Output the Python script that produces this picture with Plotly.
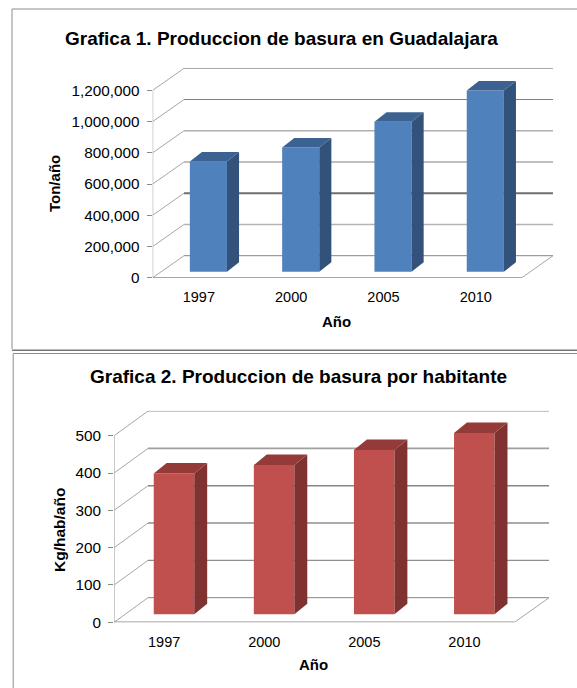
import plotly.graph_objects as go

WIDTH, HEIGHT = 577, 688
PAGE_HEIGHT = 696
FONT = "Liberation Sans, Arial, sans-serif"

categories = ["1997", "2000", "2005", "2010"]
tons_values = [705000, 795000, 960000, 1160000]
tons_ticks = [0, 200000, 400000, 600000, 800000, 1000000, 1200000]
tons_ticktext = ["0", "200,000", "400,000", "600,000", "800,000", "1,000,000", "1,200,000"]
kg_values = [377, 400, 440, 486]
kg_ticks = [0, 100, 200, 300, 400, 500]
kg_ticktext = ["0", "100", "200", "300", "400", "500"]

fig = go.Figure()
shapes, annotations = [], []


def px_x(v):
    return v / WIDTH


def px_y(v):
    return 1 - v / HEIGHT


def line(xref, yref, x0, y0, x1, y1, color, width):
    shapes.append(dict(type="line", xref=xref, yref=yref, x0=x0, y0=y0, x1=x1, y1=y1,
                       line=dict(color=color, width=width), layer="below"))


def text(x, y, s, size, angle=0, bold=True, color="#000000"):
    annotations.append(dict(xref="paper", yref="paper", x=px_x(x), y=px_y(y), text=f"<b>{s}</b>" if bold else s,
                            showarrow=False, textangle=angle, xanchor="center", yanchor="middle",
                            font=dict(family=FONT, size=size, color=color)))


def chart(n, values, ticks, ticktext, g, colors, grid_styles):
    xa, ya = ("x" if n == 1 else f"x{n}"), ("y" if n == 1 else f"y{n}")
    catw = (g["front_right"] - g["left"]) / len(values)
    unit = (g["y0"] - g["ytop"]) / ticks[-1]
    dx = (g["back_left"] - g["left"]) / catw
    dy = (g["y0"] - g["back0"]) / unit
    xmax = -0.5 + (g["back_right"] - g["left"]) / catw
    ymax = (g["y0"] - g["plot_top"]) / unit
    xs = list(range(len(values)))
    lift = g["lift"] / unit
    bar_off, bar_w = g["bar_off"], g["bar_w"]
    sx = g["side_x"] / catw
    sy = g["side_y"] / unit

    # floor and walls
    front_end = -0.5 + len(values)
    for t, (col, w) in zip(ticks, grid_styles):
        line(xa, ya, -0.5, t, -0.5 + dx, t + dy, "#a6a6a6", 1)
        line(xa, ya, -0.5 + dx, t + dy, xmax, t + dy, col, w)
    line(xa, ya, front_end, 0, xmax, dy, "#a6a6a6", 1)
    line(xa, ya, -0.5, 0, -0.5, ticks[-1], "#9a9a9a", 1)
    line(xa, ya, -0.5, 0, front_end, 0, "#8a8a8a", 1.5)

    # front faces
    fig.add_trace(go.Bar(x=xs, y=values, base=[lift] * len(values), width=bar_w, offset=bar_off,
                         marker=dict(color=colors[0], line=dict(width=0)), xaxis=xa, yaxis=ya,
                         showlegend=False, hoverinfo="skip"))
    # right and top faces
    for x, v in zip(xs, values):
        l, r, top = x + bar_off, x + bar_off + bar_w, v + lift
        fig.add_trace(go.Scatter(x=[r, r + sx, r + sx, r, r], y=[lift, lift + sy, top + sy, top, lift],
                                 fill="toself", fillcolor=colors[1], mode="none", xaxis=xa, yaxis=ya,
                                 showlegend=False, hoverinfo="skip"))
        fig.add_trace(go.Scatter(x=[l, l + sx, r + sx, r, l], y=[top, top + sy, top + sy, top, top],
                                 fill="toself", fillcolor=colors[2], mode="none", xaxis=xa, yaxis=ya,
                                 showlegend=False, hoverinfo="skip"))

    xkey = "xaxis" if n == 1 else f"xaxis{n}"
    ykey = "yaxis" if n == 1 else f"yaxis{n}"
    fig.update_layout({
        xkey: dict(domain=[px_x(g["left"]), px_x(g["back_right"])], range=[-0.5, xmax], anchor=ya,
                   tickmode="array", tickvals=xs, ticktext=categories, showgrid=False, zeroline=False,
                   showline=False, ticks="", ticklabelstandoff=g["xstand"],
                   tickfont=dict(family=FONT, size=14.5, color="#000000")),
        ykey: dict(domain=[px_y(g["y0"]), px_y(g["plot_top"])], range=[0, ymax], anchor=xa,
                   tickmode="array", tickvals=ticks, ticktext=ticktext, showgrid=False, zeroline=False,
                   showline=False, ticks="outside", ticklen=5, tickcolor="#8a8a8a", tickwidth=1,
                   ticklabelstandoff=g["ystand"],
                   tickfont=dict(family=FONT, size=15.3, color="#000000")),
    })


geo1 = dict(left=152.7, front_right=521.9, back_left=184, back_right=553, y0=277.7, ytop=90.3, back0=255.7,
            plot_top=67.7, lift=6, bar_off=-0.0975, bar_w=0.402, side_x=12.1, side_y=9.5, xstand=9, ystand=4)
geo2 = dict(left=114.1, front_right=514.5, back_left=148, back_right=549.1, y0=622.3, ytop=435.7, back0=597.7,
            plot_top=410.7, lift=8, bar_off=-0.104, bar_w=0.405, side_x=12.9, side_y=10.5, xstand=9, ystand=4)

grid1 = [("#868686", 1), ("#b4b4b4", 1.5), ("#6f6f6f", 1.8), ("#808080", 1), ("#b0b0b0", 1.5), ("#808080", 1), ("#999999", 1)]
grid2 = [("#868686", 1), ("#8e8e8e", 1.4), ("#8e8e8e", 1.4), ("#868686", 1.4), ("#a0a0a0", 1.8), ("#a0a0a0", 1)]

chart(1, tons_values, tons_ticks, tons_ticktext, geo1, ("#4f81bd", "#32527c", "#3c6291"), grid1)
chart(2, kg_values, kg_ticks, kg_ticktext, geo2, ("#c0504d", "#7f3230", "#943a38"), grid2)

# titles
text(281.6, 39, "Grafica 1. Produccion de basura en Guadalajara", 19)
text(54, 184, "Ton/año", 15, angle=-90)
text(336.4, 321, "Año", 15)
text(298.7, 376, "Grafica 2. Produccion de basura por habitante", 19)
text(59, 530, "Kg/hab/año", 15.5, angle=-90)
text(313, 664, "Año", 15)

# chart frames
for x0, y0, y1, col in [(12, 9, 349, "#8c8c8c"), (13.2, 353.5, 688, "#8c8c8c")]:
    line("paper", "paper", px_x(x0), px_y(y0), px_x(x0), px_y(y1), col, 1)
    line("paper", "paper", px_x(x0), px_y(y0), 1, px_y(y0), col, 1)
line("paper", "paper", px_x(12), px_y(350.3), 1, px_y(350.3), "#777777", 1.5)

fig.update_layout(width=WIDTH, height=PAGE_HEIGHT, margin=dict(l=0, r=0, t=0, b=0), autosize=False,
                  paper_bgcolor="#ffffff", plot_bgcolor="rgba(0,0,0,0)", barmode="overlay",
                  shapes=shapes, annotations=annotations, showlegend=False)
fig.write_html("out.html", config=dict(displayModeBar=False),
               post_script="document.body.style.margin='0';document.documentElement.style.overflow='hidden';")
